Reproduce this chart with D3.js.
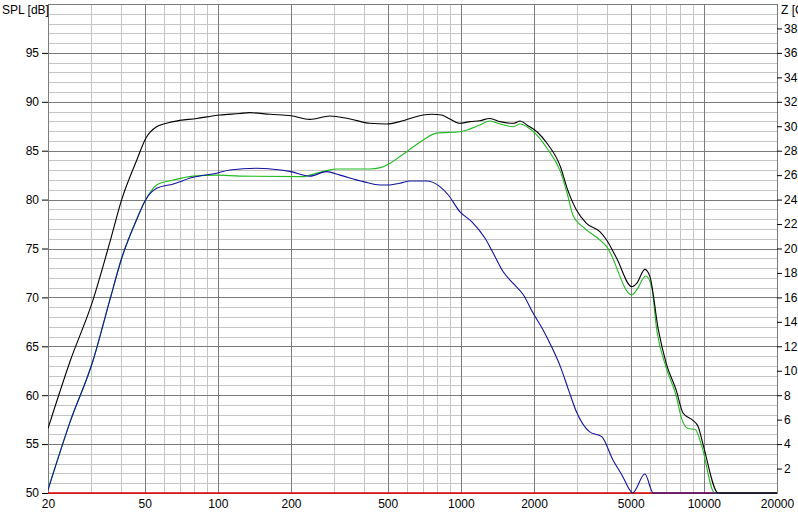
<!DOCTYPE html>
<html><head><meta charset="utf-8">
<script src="https://cdn.jsdelivr.net/npm/d3@7"></script>
<style>body{margin:0;background:#fff}svg{display:block}text{font-family:"Liberation Sans",Arial,sans-serif;font-size:12px;fill:#000}</style>
</head><body><svg id="c" width="798" height="514"></svg>
<script>
const xTicks = [20,50,100,200,500,1000,2000,5000,10000,20000];
const yTicks = [50,55,60,65,70,75,80,85,90,95];
const zTicks = [2,4,6,8,10,12,14,16,18,20,22,24,26,28,30,32,34,36,38];
const blackSPL = [[20,56.6],[24.6,63.4],[30.6,69.7],[35.9,75.6],[40.2,80.0],[46.4,84.05],[50.6,86.3],[56,87.45],[65.6,87.97],[81.8,88.3],[102,88.65],[123,88.8],[135,88.89],[164,88.72],[200,88.58],[239,88.2],[289,88.55],[350,88.24],[422,87.8],[496,87.73],[561,87.97],[700,88.65],[758,88.72],[832,88.65],[902,88.24],[990,87.8],[1090,87.97],[1198,88.07],[1316,88.3],[1450,87.97],[1646,87.8],[1754,88.04],[1870,87.63],[2056,86.94],[2262,85.76],[2570,83.36],[2738,81.15],[2990,78.94],[3288,77.58],[3733,76.72],[3980,75.87],[4378,74.0],[5048,71.1],[5292,71.44],[5720,72.87],[6000,72.12],[6500,66.67],[7000,63.26],[7700,60.5],[8220,58.15],[9040,57.4],[9480,56.78],[9940,54.9],[11460,50],[20000,50]];
const greenSPL = [[20,50.4],[24.6,57.2],[30.6,63.5],[35.9,69.7],[40.2,74.0],[46.4,78.0],[50.6,80.03],[56,81.5],[65.6,82.0],[79,82.4],[99,82.5],[123,82.4],[225,82.35],[239,82.5],[280,82.96],[308,83.13],[422,83.13],[466,83.27],[510,83.7],[561,84.4],[638,85.4],[700,86.1],[796,86.8],[990,86.94],[1198,87.63],[1316,88.04],[1450,87.73],[1646,87.45],[1754,87.73],[1870,87.45],[2056,86.6],[2262,85.25],[2570,82.86],[2738,80.65],[2893,78.4],[3236,77.06],[3733,75.87],[3980,75.2],[5048,70.25],[5292,70.76],[5770,72.19],[6094,71.1],[6400,66.67],[7000,62.8],[7700,59.9],[8100,57.6],[8600,56.6],[9220,56.5],[9780,54.9],[11080,50],[20000,50]];
const blueSPL = [[20,50.3],[24.6,57.2],[30.6,63.5],[35.9,69.7],[40.2,74.0],[46.4,78.0],[50.6,80.03],[56,81.15],[65.6,81.6],[79,82.28],[99,82.7],[112,83.03],[144,83.2],[169,83.1],[200,82.86],[239,82.4],[280,82.86],[318,82.5],[397,81.84],[466,81.5],[510,81.5],[561,81.67],[618,81.9],[722,81.9],[820,81.33],[888,80.47],[990,78.77],[1108,77.75],[1258,76.04],[1338,74.85],[1496,72.6],[1646,71.4],[1810,70.25],[1985,68.37],[2180,66.67],[2362,64.96],[2570,62.9],[2778,60.5],[2990,58.3],[3380,56.27],[3800,55.76],[4220,53.4],[4640,51.67],[4960,50.3],[5090,50],[5720,51.94],[6190,50],[20000,50]];
const impedance = [[20,0],[20000,0]];

const svg = d3.select("#c");
const L=48, R=777, T=4, B=493;
const x = d3.scaleLog().domain([20,20000]).range([L,R]);
const y = d3.scaleLinear().domain([50,100]).range([B,T]);
const z = d3.scaleLinear().domain([0,40]).range([B,T]);
const px = v => Math.round(v)+0.5;

const g = svg.append("g").attr("shape-rendering","crispEdges");
const minorF = [];
for (let dec of [10,100,1000,10000]) for (let k=1;k<10;k++){const f=k*dec; if(f>20&&f<20000&&!xTicks.includes(f)) minorF.push(f);}
g.selectAll(".vm").data(minorF).enter().append("line")
 .attr("x1",d=>px(x(d))).attr("x2",d=>px(x(d))).attr("y1",T).attr("y2",B).attr("stroke","#c4c4c4");
const minorY = d3.range(51,100).filter(v=>v%5!==0);
g.selectAll(".hm").data(minorY).enter().append("line")
 .attr("y1",d=>px(y(d))).attr("y2",d=>px(y(d))).attr("x1",L).attr("x2",R).attr("stroke","#c4c4c4");
g.selectAll(".vM").data(xTicks.slice(1,-1)).enter().append("line")
 .attr("x1",d=>px(x(d))).attr("x2",d=>px(x(d))).attr("y1",T).attr("y2",B).attr("stroke","#7a7a7a");
g.selectAll(".hM").data(yTicks.slice(1)).enter().append("line")
 .attr("y1",d=>px(y(d))).attr("y2",d=>px(y(d))).attr("x1",L).attr("x2",R).attr("stroke","#7a7a7a");
g.append("rect").attr("x",px(L)).attr("y",px(T)).attr("width",Math.round(R-L)).attr("height",Math.round(B-T))
 .attr("fill","none").attr("stroke","#7a7a7a");

const yAxis = d3.axisLeft(y).tickValues(yTicks).tickSize(6).tickPadding(3).tickFormat(d3.format("d"));
const ya = svg.append("g").attr("transform",`translate(${L},0)`).call(yAxis);
const zAxis = d3.axisRight(z).tickValues(zTicks).tickSize(5).tickPadding(2).tickFormat(d3.format("d"));
const za = svg.append("g").attr("transform",`translate(${R},0)`).call(zAxis);
const xAxis = d3.axisBottom(x).tickValues(xTicks).tickSize(0).tickPadding(6).tickFormat(d3.format("d"));
const xa = svg.append("g").attr("transform",`translate(0,${B})`).call(xAxis);
[ya,za,xa].forEach(a=>{a.select(".domain").remove();a.selectAll("line").attr("stroke","#000");
 a.selectAll("text").attr("font-family","'Liberation Sans',Arial,sans-serif").attr("font-size",12).attr("fill","#000");});

svg.append("text").attr("x",2).attr("y",14).text("SPL [dB]");
svg.append("text").attr("x",781).attr("y",14).text("Z [Ohm]");

svg.append("clipPath").attr("id","pc").append("rect").attr("x",L).attr("y",T).attr("width",R-L+1).attr("height",B-T+1);
const lineSPL = d3.line().x(d=>x(d[0])).y(d=>y(d[1])).curve(d3.curveMonotoneX);
const lineZ = d3.line().x(d=>x(d[0])).y(d=>px(z(d[1]))-0.5);
const cg = svg.append("g").attr("clip-path","url(#pc)");
cg.append("path").datum(impedance).attr("d",lineZ).attr("fill","none").attr("stroke","#e00000").attr("stroke-width",1.3);
cg.append("path").datum(greenSPL).attr("d",lineSPL).attr("fill","none").attr("stroke","#22bb22").attr("stroke-width",1.1);
cg.append("path").datum(blueSPL).attr("d",lineSPL).attr("fill","none").attr("stroke","#1010a0").attr("stroke-width",1.1);
cg.append("path").datum(blackSPL).attr("d",lineSPL).attr("fill","none").attr("stroke","#000").attr("stroke-width",1.1);
</script></body></html>
